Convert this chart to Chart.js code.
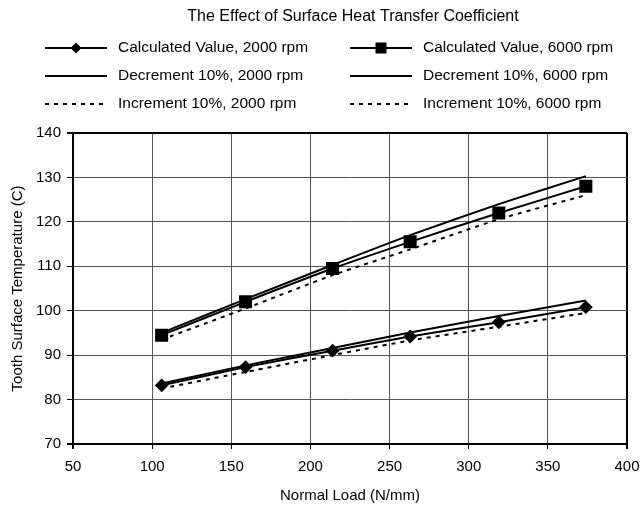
<!DOCTYPE html>
<html>
<head>
<meta charset="utf-8">
<script src="https://cdn.jsdelivr.net/npm/chart.js@4/dist/chart.umd.min.js"></script>
<style>
  html, body { margin: 0; padding: 0; background: #fff; }
  #wrap { width: 640px; height: 506px; }
</style>
</head>
<body>
<div id="wrap"><canvas id="myChart" width="640" height="506"></canvas></div>
<script>
// normal load (N/mm) at each calculation point
const loads = [106, 159, 214, 263, 319, 374];

// tooth surface temperature (C)
const calc2000 = [83.2, 87.3, 91.0, 94.2, 97.4, 100.8];
const dec2000  = [83.6, 87.7, 91.6, 95.1, 98.8, 102.3];
const inc2000  = [82.5, 86.2, 90.0, 93.3, 96.4, 99.5];
const calc6000 = [94.5, 102.0, 109.5, 115.5, 122.0, 128.0];
const dec6000  = [95.0, 102.6, 110.3, 117.0, 124.0, 130.3];
const inc6000  = [93.5, 100.5, 108.0, 113.8, 120.6, 126.0];

const xTicks = [50, 100, 150, 200, 250, 300, 350, 400];
const yTicks = [70, 80, 90, 100, 110, 120, 130, 140];

const TITLE = 'The Effect of Surface Heat Transfer Coefficient';
const FONT = "'Liberation Sans', Arial, Helvetica, sans-serif";

function pts(values) {
    return loads.map((x, i) => ({ x: x, y: values[i] }));
}

function series(label, values, opts) {
    return Object.assign({
        label: label,
        data: pts(values),
        borderColor: '#000',
        backgroundColor: '#000',
        borderWidth: 2,
        tension: 0.2,
        pointRadius: 0,
        pointHoverRadius: 0,
    }, opts);
}

// title and a two-column legend, drawn into the space above the plot
const headerPlugin = {
    id: 'header',
    afterDraw(chart) {
        const ctx = chart.ctx;
        const cols = [45, 350];
        const rows = [48, 76, 104];
        ctx.save();
        ctx.fillStyle = '#000';
        ctx.textBaseline = 'middle';
        ctx.textAlign = 'center';
        ctx.font = '16px ' + FONT;
        ctx.fillText(TITLE, 353, 17);

        ctx.font = '15.5px ' + FONT;
        ctx.textAlign = 'left';
        chart.data.datasets.forEach((ds, i) => {
            const x0 = cols[i % 2];
            const y = rows[Math.floor(i / 2)];
            const len = 62;
            ctx.strokeStyle = '#000';
            ctx.lineWidth = 2;
            ctx.setLineDash(ds.borderDash || []);
            ctx.beginPath();
            ctx.moveTo(x0, y);
            ctx.lineTo(x0 + len, y);
            ctx.stroke();
            ctx.setLineDash([]);
            if (ds.pointRadius) {
                const cx = x0 + len / 2;
                ctx.beginPath();
                if (ds.pointStyle === 'rect') {
                    const s = ds.pointRadius * Math.SQRT1_2;
                    ctx.rect(cx - s, y - s, 2 * s, 2 * s);
                } else {
                    const r = ds.pointRadius;
                    ctx.moveTo(cx, y - r);
                    ctx.lineTo(cx + r, y);
                    ctx.lineTo(cx, y + r);
                    ctx.lineTo(cx - r, y);
                    ctx.closePath();
                }
                ctx.fill();
            }
            ctx.fillText(ds.label, x0 + 73, y);
        });
        ctx.restore();
    }
};

const edge = (lo, hi) => (c) => (c.tick && (c.tick.value === lo || c.tick.value === hi)) ? '#000' : '#555';
const edgeW = (lo, hi) => (c) => (c.tick && (c.tick.value === lo || c.tick.value === hi)) ? 2 : 1;

new Chart('myChart', {
    type: 'line',
    data: {
        datasets: [
            series('Calculated Value, 2000 rpm', calc2000, { pointStyle: 'rectRot', pointRadius: 5.5 }),
            series('Calculated Value, 6000 rpm', calc6000, { pointStyle: 'rect', pointRadius: 7.8 }),
            series('Decrement 10%, 2000 rpm', dec2000),
            series('Decrement 10%, 6000 rpm', dec6000),
            series('Increment 10%, 2000 rpm', inc2000, { borderDash: [4, 5] }),
            series('Increment 10%, 6000 rpm', inc6000, { borderDash: [4, 5] }),
        ],
    },
    options: {
        responsive: false,
        animation: false,
        layout: { padding: { left: 0, right: 13, top: 133, bottom: 0 } },
        plugins: {
            legend: { display: false },
            tooltip: { enabled: false },
            title: { display: false },
        },
        scales: {
            x: {
                type: 'linear',
                min: 50,
                max: 400,
                afterBuildTicks: (scale) => { scale.ticks = xTicks.map(v => ({ value: v })); },
                afterFit: (scale) => {
                    scale.height = 62;
                    scale.paddingLeft = 0;
                    scale.paddingRight = 0;
                },
                border: { color: '#000', width: 2 },
                grid: { color: edge(50, 400), lineWidth: edgeW(50, 400), tickLength: 5, tickColor: '#000' },
                ticks: { color: '#000', padding: 9, font: { family: FONT, size: 15 } },
                title: {
                    display: true,
                    text: 'Normal Load (N/mm)',
                    color: '#000',
                    font: { family: FONT, size: 15 },
                    padding: { top: 0, bottom: 1 },
                },
            },
            y: {
                min: 70,
                max: 140,
                afterBuildTicks: (scale) => { scale.ticks = yTicks.map(v => ({ value: v })); },
                afterFit: (scale) => {
                    scale.width = 73;
                    scale.paddingTop = 0;
                    scale.paddingBottom = 0;
                },
                border: { color: '#000', width: 2 },
                grid: { color: edge(70, 140), lineWidth: edgeW(70, 140), tickLength: 6, tickColor: '#000' },
                ticks: { color: '#000', padding: 6, font: { family: FONT, size: 15 } },
                title: {
                    display: true,
                    text: 'Tooth Surface Temperature (C)',
                    color: '#000',
                    font: { family: FONT, size: 15 },
                    padding: { top: 9, bottom: 0 },
                },
            },
        },
    },
    plugins: [headerPlugin],
});
</script>
</body>
</html>
